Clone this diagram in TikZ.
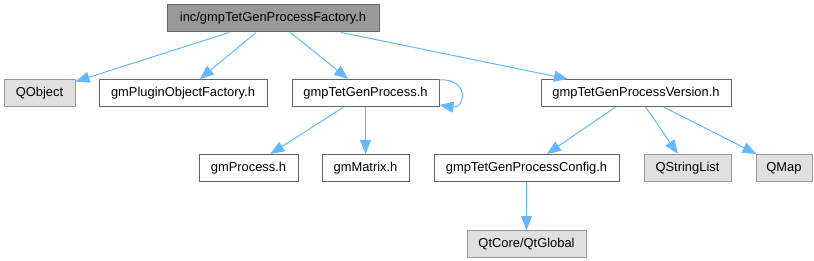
\documentclass[tikz,border=0pt]{standalone}
\usepackage{fontspec}
\setmainfont{Liberation Sans}
\usepackage{tikz}
\usetikzlibrary{arrows.meta,positioning}
\definecolor{dxline}{HTML}{63B8FF}
\definecolor{dxborder}{HTML}{666666}
\definecolor{dxroot}{HTML}{999999}
\definecolor{dxsys}{HTML}{E0E0E0}

\begin{document}
\begin{tikzpicture}[x=1pt,y=-1pt,>={Triangle[length=14pt,width=11pt]},font=\fontsize{12.9}{15}\selectfont,node distance=24pt,
    every node/.style={align=center,minimum height=27pt,inner sep=0pt},
    file/.style={draw=dxborder,fill=white,line width=1pt},
    rootfile/.style={file,fill=dxroot},
    sysfile/.style={draw=dxroot,fill=dxsys,line width=1pt},
    link/.style={->,draw=dxline,line width=1pt}]
    \useasboundingbox (0,0) rectangle (814,261);
    \node[rootfile,minimum width=212pt] (fac) at (273,18.5) {inc/gmpTetGenProcessFactory.h};
    \node[sysfile,minimum width=71pt] (qobj) at (39.5,93) {QObject};
    \node[file,minimum width=168pt,right=23pt of qobj] (plug) {gmPluginObjectFactory.h};
    \node[file,minimum width=147pt,right=of plug] (proc) {gmpTetGenProcess.h};
    \node[file,minimum width=190pt,right=101pt of proc] (ver) {gmpTetGenProcessVersion.h};
    \node[file,minimum width=87pt,below=47pt of proc] (mat) {gmMatrix.h};
    \node[file,minimum width=99pt,left=23pt of mat] (gproc) {gmProcess.h};
    \node[file,minimum width=185pt,right=of mat] (cfg) {gmpTetGenProcessConfig.h};
    \node[sysfile,minimum width=87pt,right=of cfg] (qsl) {QStringList};
    \node[sysfile,minimum width=56pt,right=of qsl] (qmap) {QMap};
    \node[sysfile,minimum width=119pt,below=48pt of cfg] (qtg) {QtCore/QtGlobal};
    \draw[link] (fac)--(qobj); \draw[link] (fac)--(plug); \draw[link] (fac)--(proc); \draw[link] (fac)--(ver);
    \draw[link] ([yshift=-1pt]proc.north east) .. controls +(30,-2) and +(26,4) .. ([yshift=2pt]proc.south east);
    \draw[link] (proc)--(gproc); \draw[link] (proc)--(mat);
    \draw[link] (ver)--(cfg); \draw[link] (ver)--(qsl); \draw[link] (ver)--(qmap);
    \draw[link] (cfg)--(qtg);
  \end{tikzpicture}
\end{document}
